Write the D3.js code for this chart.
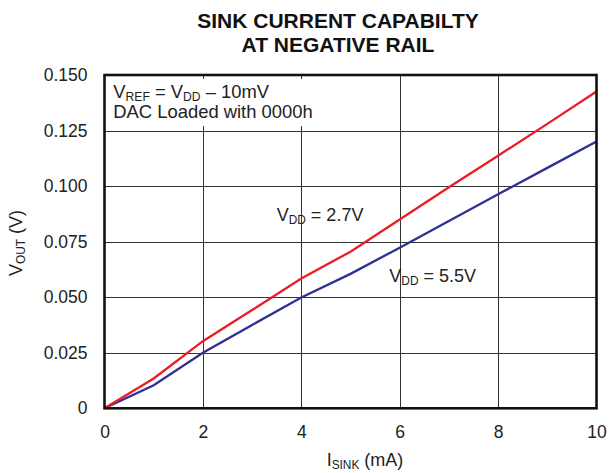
<!DOCTYPE html>
<html>
<head>
<meta charset="utf-8">
<script src="https://cdn.jsdelivr.net/npm/d3@7"></script>
<style>
  body { margin: 0; background: #fff; }
  svg { display: block; }
  text { font-family: "Liberation Sans", Arial, Helvetica, sans-serif; fill: #222; }
</style>
</head>
<body>
<svg width="609" height="473"></svg>
<script>
// data
const isink = [0, 1, 2, 3, 4, 5, 6, 7, 8, 9, 10];
const vdd27 = [0, 0.0134, 0.0302, 0.0442, 0.0584, 0.0705, 0.0850, 0.0995, 0.1137, 0.1280, 0.1426];
const vdd55 = [0, 0.0104, 0.0250, 0.0375, 0.0499, 0.0605, 0.0723, 0.0843, 0.0963, 0.1082, 0.1201];
const xTicks = [0, 2, 4, 6, 8, 10];
const yTicks = [0, 0.025, 0.05, 0.075, 0.1, 0.125, 0.15];
const yTickLabels = ["0", "0.025", "0.050", "0.075", "0.100", "0.125", "0.150"];

const svg = d3.select("svg");
const plotLeft = 104.5, plotRight = 596.5, plotTop = 75, plotBottom = 408.3;

const x = d3.scaleLinear().domain([0, 10]).range([plotLeft, plotRight]);
const y = d3.scaleLinear().domain([0, 0.15]).range([plotBottom, plotTop]);

// title
const title = svg.append("text")
  .attr("text-anchor", "middle")
  .attr("font-size", "21px")
  .attr("font-weight", "bold")
  .style("fill", "#111");
title.append("tspan").attr("x", 338).attr("y", 28.3).text("SINK CURRENT CAPABILTY");
title.append("tspan").attr("x", 338).attr("y", 51.7).text("AT NEGATIVE RAIL");

// grid
const grid = svg.append("g").attr("stroke", "#333").attr("stroke-width", 1);
grid.selectAll("line.h")
  .data(yTicks.slice(1, -1))
  .join("line")
  .attr("class", "h")
  .attr("x1", plotLeft).attr("x2", plotRight)
  .attr("y1", d => Math.round(y(d)) + 0.5)
  .attr("y2", d => Math.round(y(d)) + 0.5);
grid.selectAll("line.v")
  .data(xTicks.slice(1, -1))
  .join("line")
  .attr("class", "v")
  .attr("y1", plotTop).attr("y2", plotBottom)
  .attr("x1", d => Math.round(x(d)) + 0.5)
  .attr("x2", d => Math.round(x(d)) + 0.5);

// white box behind the note
svg.append("rect")
  .attr("x", plotLeft + 1).attr("y", plotTop + 4)
  .attr("width", 214).attr("height", 47)
  .attr("fill", "#fff");

// tick labels via axes
const yAxis = svg.append("g")
  .attr("transform", `translate(${plotLeft},0)`)
  .call(d3.axisLeft(y).tickValues(yTicks).tickSize(0).tickPadding(17)
    .tickFormat((d, i) => yTickLabels[i]));
const xAxis = svg.append("g")
  .attr("transform", `translate(0,${plotBottom})`)
  .call(d3.axisBottom(x).tickValues(xTicks).tickSize(0).tickPadding(17)
    .tickFormat(d3.format("d")));
[yAxis, xAxis].forEach(a => {
  a.attr("font-family", null).attr("font-size", null);
  a.select(".domain").remove();
  a.selectAll("text")
    .attr("font-size", "17.5px")
    .style("fill", "#222");
});

// curves
const line = d3.line().x(d => x(d[0])).y(d => y(d[1]));
svg.append("path")
  .datum(isink.map((v, i) => [v, vdd55[i]]))
  .attr("d", line)
  .attr("fill", "none")
  .attr("stroke", "#2e3192")
  .attr("stroke-width", 2.3);
svg.append("path")
  .datum(isink.map((v, i) => [v, vdd27[i]]))
  .attr("d", line)
  .attr("fill", "none")
  .attr("stroke", "#ed1c24")
  .attr("stroke-width", 2.3);

// frame
svg.append("rect")
  .attr("x", plotLeft).attr("y", plotTop)
  .attr("width", plotRight - plotLeft).attr("height", plotBottom - plotTop)
  .attr("fill", "none")
  .attr("stroke", "#111")
  .attr("stroke-width", 2.6);

// text with a subscript: parts = [[text, isSub], ...]
function subText(g, px, py, size, parts, anchor) {
  const t = g.append("text")
    .attr("x", px).attr("y", py)
    .attr("font-size", size + "px")
    .attr("text-anchor", anchor || "start");
  let shifted = false;
  parts.forEach(([s, sub]) => {
    const ts = t.append("tspan").text(s);
    if (sub && !shifted) { ts.attr("dy", size * 0.17).attr("font-size", (size * 0.66) + "px"); shifted = true; }
    else if (!sub && shifted) { ts.attr("dy", -size * 0.17); shifted = false; }
  });
  return t;
}

subText(svg, 113.3, 98.3, 18.4, [["V"], ["REF", 1], [" = V"], ["DD", 1], [" \u2013 10mV"]]);
svg.append("text").attr("x", 113.3).attr("y", 118.3).attr("font-size", "18.4px").text("DAC Loaded with 0000h");

subText(svg, 276.7, 220.7, 18, [["V"], ["DD", 1], [" = 2.7V"]]);
subText(svg, 389.3, 282.3, 18, [["V"], ["DD", 1], [" = 5.5V"]]);

// axis titles
subText(svg, 365, 465.5, 18, [["I"], ["SINK", 1], [" (mA)"]], "middle");
const yt = svg.append("g").attr("transform", "translate(22,243) rotate(-90)");
subText(yt, 0, 0, 18, [["V"], ["OUT", 1], [" (V)"]], "middle");
</script>
</body>
</html>
